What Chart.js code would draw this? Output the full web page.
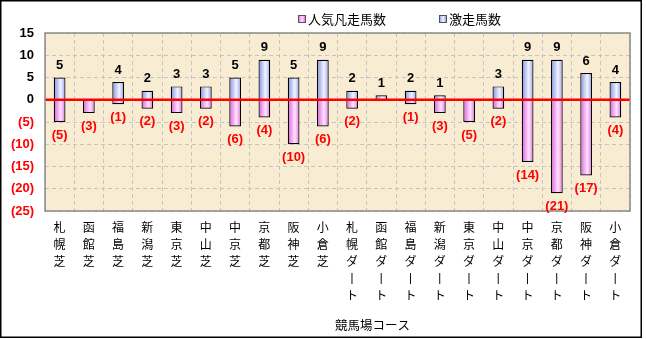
<!DOCTYPE html>
<html>
<head>
<meta charset="utf-8">
<script src="https://cdn.jsdelivr.net/npm/chart.js@4/dist/chart.umd.min.js"></script>
<style>
  html, body { margin: 0; padding: 0; background: #ffffff; }
  #wrap { position: relative; width: 646px; height: 339px; }
</style>
</head>
<body>
<div id="wrap"><canvas id="c" width="646" height="339"></canvas></div>
<script>
// ---- data ----
const courses = ['札幌芝','函館芝','福島芝','新潟芝','東京芝','中山芝','中京芝','京都芝','阪神芝','小倉芝',
                 '札幌ダート','函館ダート','福島ダート','新潟ダート','東京ダート','中山ダート','中京ダート','京都ダート','阪神ダート','小倉ダート'];
const gekisou = [5, 0, 4, 2, 3, 3, 5, 9, 5, 9, 2, 1, 2, 1, 0, 3, 9, 9, 6, 4];          // 激走馬数
const ninkiBonsou = [5, 3, 1, 2, 3, 2, 6, 4, 10, 6, 2, 0, 1, 3, 5, 2, 14, 21, 17, 4];  // 人気凡走馬数
const seriesNames = ['人気凡走馬数', '激走馬数'];
const axisTitle = '競馬場コース';
const yMin = -25, yMax = 15, yStep = 5;

// vertical labels: one character per line, long vowel mark drawn vertical
const tickLabels = courses.map(s => s.split('').map(ch => ch === 'ー' ? '丨' : ch));

const JP = '"Noto Sans CJK JP", "Noto Sans", sans-serif';
const BOLD = '"Liberation Sans", Arial, sans-serif';

function barGradient(ctx, stops, fallback) {
  const chart = ctx.chart;
  const xs = chart.scales && chart.scales.x;
  if (!xs || !chart.chartArea) return fallback;
  const cx = xs.getPixelForValue(ctx.dataIndex);
  const w = (xs.width / courses.length) * 0.4;
  const g = chart.ctx.createLinearGradient(cx - w / 2, 0, cx + w / 2, 0);
  stops.forEach(s => g.addColorStop(s[0], s[1]));
  return g;
}

const pinkStops = [[0, '#dc5edc'], [0.6, '#ffe4ff'], [1, '#e470e4']];
const blueStops = [[0, '#8590e2'], [0.6, '#f2f4ff'], [1, '#95a0ea']];

const decor = {
  id: 'decor',
  beforeDraw(chart) {
    const { ctx, chartArea: a } = chart;
    ctx.save();
    ctx.fillStyle = '#ffffff';
    ctx.fillRect(0, 0, chart.width, chart.height);
    ctx.fillStyle = '#f8ecd3';
    ctx.fillRect(a.left, a.top, a.right - a.left, a.bottom - a.top);
    ctx.restore();
  },
  afterDatasetsDraw(chart) {
    const { ctx, chartArea: a, scales } = chart;
    ctx.save();
    // zero line
    const y0 = scales.y.getPixelForValue(0);
    ctx.strokeStyle = '#ff0000';
    ctx.lineWidth = 2.5;
    ctx.beginPath();
    ctx.moveTo(a.left, y0);
    ctx.lineTo(a.right, y0);
    ctx.stroke();
    // plot border
    ctx.strokeStyle = '#8a8a8a';
    ctx.lineWidth = 1.5;
    ctx.strokeRect(a.left, a.top, a.right - a.left, a.bottom - a.top);
    // value labels
    ctx.font = 'bold 13px ' + BOLD;
    ctx.textAlign = 'center';
    ctx.textBaseline = 'middle';
    const pinkMeta = chart.getDatasetMeta(0);
    const blueMeta = chart.getDatasetMeta(1);
    blueMeta.data.forEach((el, i) => {
      if (gekisou[i] > 0) {
        ctx.fillStyle = '#000000';
        ctx.fillText(String(gekisou[i]), el.x, el.y - 12);
      }
    });
    pinkMeta.data.forEach((el, i) => {
      if (ninkiBonsou[i] > 0) {
        ctx.fillStyle = '#ff0000';
        ctx.fillText('(' + ninkiBonsou[i] + ')', el.x, el.y + 13);
      }
    });
    ctx.restore();
  },
  afterDraw(chart) {
    const { ctx, chartArea: a } = chart;
    ctx.save();
    // legend
    const items = [
      { x: 298, name: seriesNames[0], stops: pinkStops },
      { x: 439, name: seriesNames[1], stops: blueStops }
    ];
    items.forEach(it => {
      const g = ctx.createLinearGradient(it.x, 0, it.x + 7, 0);
      it.stops.forEach(s => g.addColorStop(s[0], s[1]));
      ctx.fillStyle = g;
      ctx.fillRect(it.x, 15, 7, 7);
      ctx.strokeStyle = '#555555';
      ctx.lineWidth = 1;
      ctx.strokeRect(it.x + 0.5, 15.5, 7, 7);
      ctx.fillStyle = '#000000';
      ctx.font = '13px ' + JP;
      ctx.textAlign = 'left';
      ctx.textBaseline = 'middle';
      ctx.fillText(it.name, it.x + 10, 19);
    });
    // axis title
    ctx.font = '12.5px ' + JP;
    ctx.textAlign = 'center';
    ctx.fillStyle = '#000000';
    ctx.fillText(axisTitle, a.left + (a.right - a.left) * 0.56, 325);
    // outer frame
    ctx.strokeStyle = '#000000';
    ctx.lineWidth = 1.5;
    ctx.strokeRect(0.75, 0.75, 640.5, 336.5);
    ctx.restore();
  }
};

new Chart(document.getElementById('c'), {
  type: 'bar',
  data: {
    labels: tickLabels,
    datasets: [
      {
        label: seriesNames[0],
        data: ninkiBonsou.map(v => -v),
        backgroundColor: ctx => barGradient(ctx, pinkStops, '#f0a0f0'),
        borderColor: '#000000',
        borderWidth: 1.2,
        barPercentage: 0.4,
        categoryPercentage: 1
      },
      {
        label: seriesNames[1],
        data: gekisou,
        backgroundColor: ctx => barGradient(ctx, blueStops, '#c0c8f8'),
        borderColor: '#000000',
        borderWidth: 1.2,
        barPercentage: 0.4,
        categoryPercentage: 1
      }
    ]
  },
  options: {
    responsive: false,
    animation: false,
    layout: { padding: { left: 0, right: 16, top: 33, bottom: 0 } },
    plugins: {
      legend: { display: false },
      tooltip: { enabled: false }
    },
    scales: {
      x: {
        stacked: true,
        grid: { color: '#c4c4c4', lineWidth: 1, borderDash: [4, 3], drawTicks: false, offset: true },
        border: { display: false, dash: [4, 3] },
        ticks: {
          color: '#000000',
          font: { family: JP, size: 12, lineHeight: 1.42 },
          padding: 8,
          autoSkip: false,
          maxRotation: 0,
          minRotation: 0
        },
        afterFit: s => { s.height = 128; }
      },
      y: {
        stacked: true,
        min: yMin,
        max: yMax,
        grid: { color: '#c4c4c4', lineWidth: 1, drawTicks: false },
        border: { display: false, dash: [4, 3] },
        ticks: {
          stepSize: yStep,
          padding: 11,
          color: ctx => (ctx.tick && ctx.tick.value < 0 ? '#ff0000' : '#000000'),
          font: { family: BOLD, size: 13, weight: 'bold' },
          callback: v => (v < 0 ? '(' + (-v) + ')' : String(v))
        },
        afterFit: s => { s.width = 45; }
      }
    }
  },
  plugins: [decor]
});
</script>
</body>
</html>
